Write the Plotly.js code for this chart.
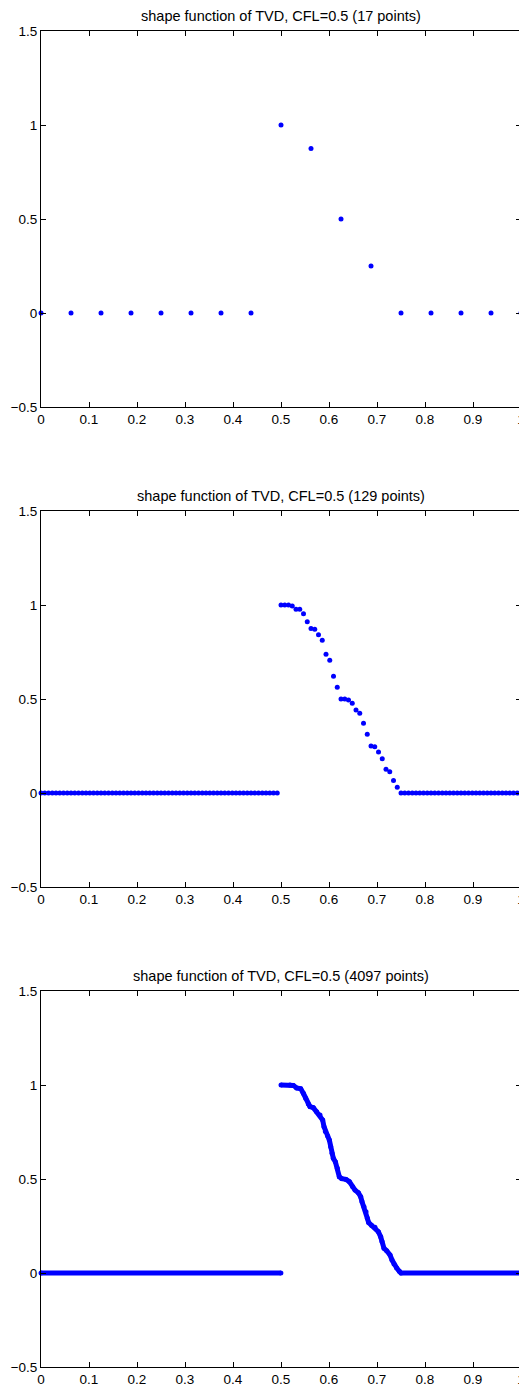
<!DOCTYPE html>
<html>
<head>
<meta charset="utf-8">
<script src="https://cdn.plot.ly/plotly-3.0.1.min.js"></script>
<style>
html,body{margin:0;padding:0;overflow:hidden;background:#fff;}
#chart{width:530px;height:1388px;}
</style>
</head>
<body>
<div id="chart"></div>
<script>
// ---- data ----
var titles = [
  "shape function of TVD, CFL=0.5 (17 points)",
  "shape function of TVD, CFL=0.5 (129 points)",
  "shape function of TVD, CFL=0.5 (4097 points)"
];
var xTickVals = [0, 0.1, 0.2, 0.3, 0.4, 0.5, 0.6, 0.7, 0.8, 0.9, 1];
var xTickText = ["0", "0.1", "0.2", "0.3", "0.4", "0.5", "0.6", "0.7", "0.8", "0.9", "1"];
var yTickVals = [-0.5, 0, 0.5, 1, 1.5];
var yTickText = ["\u22120.5", "0", "0.5", "1", "1.5"];

// panel 1: 17 points
var x1 = [0, 0.0625, 0.125, 0.1875, 0.25, 0.3125, 0.375, 0.4375, 0.5, 0.5625, 0.625, 0.6875, 0.75, 0.8125, 0.875, 0.9375, 1];
var y1 = [0, 0, 0, 0, 0, 0, 0, 0, 1, 0.875, 0.5, 0.25, 0, 0, 0, 0, 0];

// panel 2: 129 points, evenly spaced from 0 to 1
var x2Start = 0, x2Step = 1 / 128;
var y2 = [
  0,0,0,0,0,0,0,0,0,0,0,0,0,0,0,0,
  0,0,0,0,0,0,0,0,0,0,0,0,0,0,0,0,
  0,0,0,0,0,0,0,0,0,0,0,0,0,0,0,0,
  0,0,0,0,0,0,0,0,0,0,0,0,0,0,0,0,
  1,1,1,0.995,0.977,0.977,0.954,0.911,0.875,
  0.871,0.842,0.812,0.738,0.706,0.621,0.563,0.5,
  0.5,0.495,0.477,0.441,0.424,0.371,0.313,0.25,
  0.246,0.218,0.182,0.126,0.113,0.066,0.030,0,
  0,0,0,0,0,0,0,0,0,0,0,0,0,0,0,0,
  0,0,0,0,0,0,0,0,0,0,0,0,0,0,0,0
];

// panel 3: 4097 points (dense)
var x3 = [0, 0.49976, null,
  0.5, 0.5188, 0.5257, 0.5326, 0.541, 0.5465, 0.5514, 0.5569, 0.5604, 0.5674,
  0.5743, 0.5813, 0.5868, 0.5896, 0.5924, 0.5972, 0.6007, 0.6035, 0.6063, 0.609,
  0.6132, 0.6174, 0.6215, 0.6264, 0.6354, 0.6424, 0.6493, 0.6542, 0.6611, 0.666,
  0.6688, 0.6729, 0.6771, 0.6799, 0.6826, 0.6889, 0.6958, 0.7028, 0.7076, 0.7104,
  0.7146, 0.7201, 0.7271, 0.7313, 0.7354, 0.741, 0.7465, 0.75, 1];
var y3 = [0, 0, null,
  1, 1, 0.998, 0.984, 0.98, 0.956, 0.929, 0.899, 0.885, 0.879,
  0.858, 0.84, 0.814, 0.778, 0.752, 0.729, 0.707, 0.672, 0.637, 0.61,
  0.592, 0.557, 0.512, 0.502, 0.498, 0.486, 0.459, 0.441, 0.427, 0.406,
  0.379, 0.353, 0.326, 0.291, 0.268, 0.252, 0.243, 0.22, 0.193, 0.167,
  0.131, 0.119, 0.096, 0.069, 0.048, 0.027, 0.009, 0, 0];

// ---- layout helpers ----
var H = 1388;
var panels = [[31, 407], [511, 887], [991, 1367]]; // pixel top/bottom of each plot box
function dom(p) { return [1 - p[1] / H, 1 - p[0] / H]; }

var FONT = "Liberation Sans, Arial, Helvetica, sans-serif";
var blue = "#0000ff";

function xax(i) {
  return {
    domain: [0, 1], range: [0, 1], anchor: "y" + (i === 1 ? "" : i),
    tickmode: "array", tickvals: xTickVals, ticktext: xTickText,
    ticks: "inside", ticklen: 5, tickwidth: 1, tickcolor: "#000",
    showline: true, linecolor: "#000", linewidth: 1, mirror: "ticks",
    showgrid: false, zeroline: false, fixedrange: true,
    tickfont: {family: FONT, size: 13.5, color: "#000"}
  };
}
function yax(i) {
  return {
    domain: dom(panels[i - 1]), range: [-0.5, 1.5], anchor: "x" + (i === 1 ? "" : i),
    tickmode: "array", tickvals: yTickVals, ticktext: yTickText,
    ticks: "inside", ticklen: 5, tickwidth: 1, tickcolor: "#000",
    showline: true, linecolor: "#000", linewidth: 1, mirror: "ticks",
    showgrid: false, zeroline: false, fixedrange: true,
    tickfont: {family: FONT, size: 13.5, color: "#000"}
  };
}

var traces = [
  {x: x1, y: y1, xaxis: "x", yaxis: "y", type: "scatter", mode: "markers",
   cliponaxis: false, marker: {color: blue, size: 5}},
  {x0: x2Start, dx: x2Step, y: y2, xaxis: "x2", yaxis: "y2", type: "scatter", mode: "markers",
   cliponaxis: false, marker: {color: blue, size: 5}},
  {x: x3, y: y3, xaxis: "x3", yaxis: "y3", type: "scatter", mode: "lines+markers",
   cliponaxis: false, connectgaps: false,
   line: {color: blue, width: 5}, marker: {color: blue, size: 5}}
];

var annotations = titles.map(function (t, i) {
  return {
    text: t, xref: "paper", yref: "paper", x: 0.5, y: dom(panels[i])[1],
    xanchor: "center", yanchor: "bottom", yshift: 5, showarrow: false,
    font: {family: FONT, size: 14.5, color: "#000"}
  };
});

var layout = {
  width: 530, height: H,
  margin: {l: 41, r: 9, t: 0, b: 0, pad: 0},
  paper_bgcolor: "#fff", plot_bgcolor: "#fff",
  showlegend: false,
  xaxis: xax(1), yaxis: yax(1),
  xaxis2: xax(2), yaxis2: yax(2),
  xaxis3: xax(3), yaxis3: yax(3),
  annotations: annotations
};

Plotly.newPlot("chart", traces, layout, {staticPlot: true, displayModeBar: false});
</script>
</body>
</html>
